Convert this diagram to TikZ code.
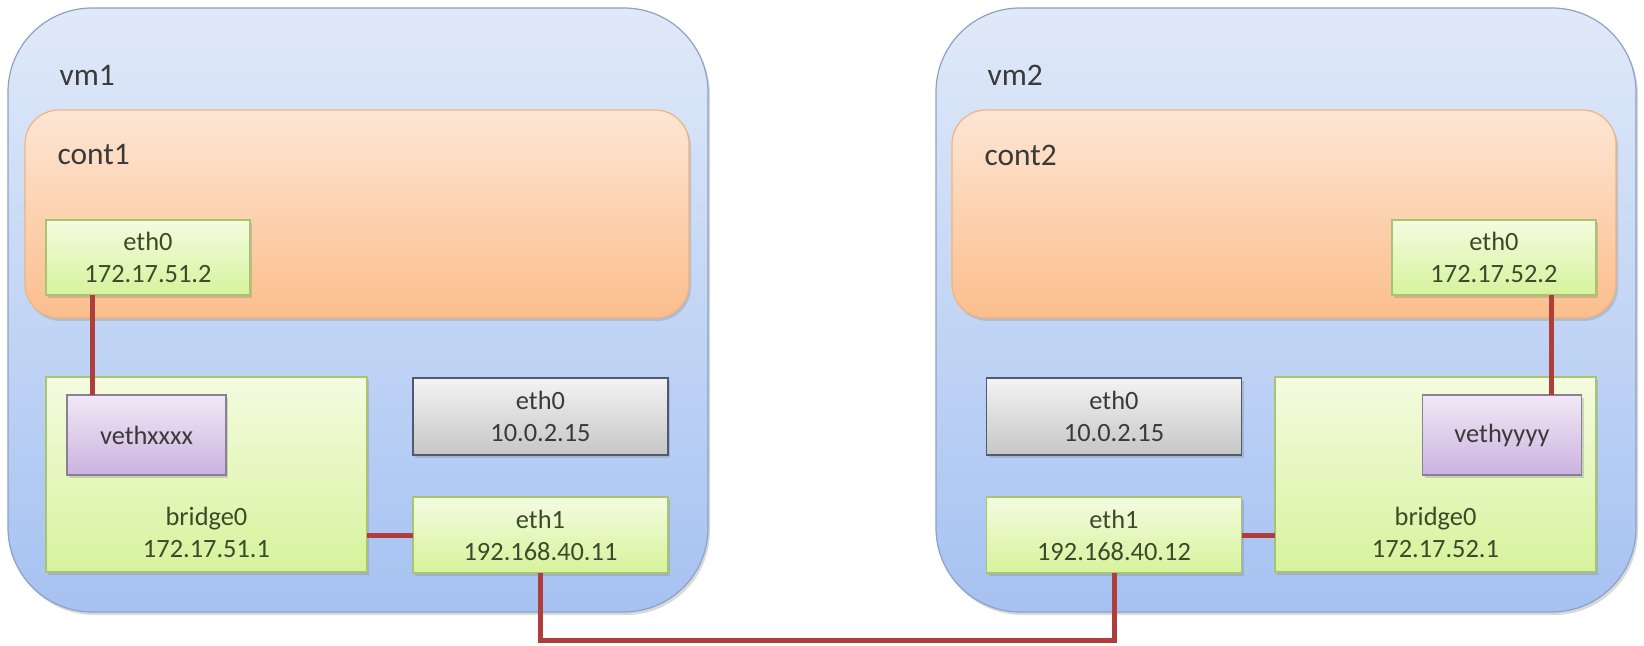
\documentclass[tikz,border=0pt]{standalone}
\usepackage{fontspec}
\setmainfont{Carlito}
\usetikzlibrary{shadows}
\definecolor{vmtop}{HTML}{E0E9F8}
\definecolor{vmbot}{HTML}{A6C2F2}
\definecolor{vmline}{HTML}{8CA2C6}
\definecolor{cttop}{HTML}{FDE6D4}
\definecolor{ctbot}{HTML}{FBBE8C}
\definecolor{ctline}{HTML}{F0B47E}
\definecolor{grtop}{HTML}{F4FBE0}
\definecolor{grbot}{HTML}{D6F39C}
\definecolor{grline}{HTML}{A8C46E}
\definecolor{gytop}{HTML}{F3F3F3}
\definecolor{gybot}{HTML}{C6C6C6}
\definecolor{gyline}{HTML}{4E5A72}
\definecolor{vltop}{HTML}{F2E8F6}
\definecolor{vlbot}{HTML}{CAB3E0}
\definecolor{vlline}{HTML}{8A7F96}
\definecolor{linkred}{HTML}{AE3E3C}
\definecolor{txt}{HTML}{3A3A3A}
\definecolor{gtxt}{HTML}{3C4A2A}
\begin{document}
\begin{tikzpicture}[x=0.5pt,y=-0.5pt,semithick,
 box/.style={draw,inner sep=0pt,outer sep=0pt,align=center,
  font=\fontsize{13.2}{16}\selectfont,
  drop shadow={shadow xshift=1pt,shadow yshift=-1.5pt,opacity=.3}},
 vmbox/.style={box,rounded corners=42pt,draw=vmline,top color=vmtop,bottom color=vmbot,
  minimum width=350pt,minimum height=302pt},
 ctbox/.style={box,rounded corners=17pt,draw=ctline,top color=cttop,bottom color=ctbot,
  minimum width=332pt,minimum height=104pt},
 nic/.style={box,draw=grline,top color=grtop,bottom color=grbot,text=gtxt},
 host/.style={box,draw=gyline,top color=gytop,bottom color=gybot,text=txt,
  minimum width=127.5pt,minimum height=38.5pt},
 veth/.style={box,draw=vlline,top color=vltop,bottom color=vlbot,text=txt,
  minimum width=79.5pt,minimum height=40pt},
 lbl/.style={inner sep=0pt,text=txt,font=\fontsize{15.7}{19}\selectfont},
 link/.style={draw=linkred,line width=2.5pt}]
\useasboundingbox(0,0)rectangle(1644,646);
% vm1
\node[vmbox](vm1)at(358,310){};
\node[lbl,anchor=west](vm1lbl)at([xshift=25.5pt,yshift=-33.5pt]vm1.north west){vm1};
\node[ctbox](ct1)at(357,214){};
\node[lbl,anchor=west](ct1lbl)at([xshift=16pt,yshift=-22.5pt]ct1.north west){cont1};
\node[nic,minimum width=102pt,minimum height=37.5pt](ct1eth0)at(148,257.5){eth0\\172.17.51.2};
\node[nic,minimum width=160.5pt,minimum height=97.5pt,
 label={[inner sep=0pt,anchor=south,yshift=7pt,align=center,text=gtxt,font=\fontsize{13.2}{16}\selectfont]south:bridge0\\172.17.51.1}](br1)at(206.5,474.5){};
\node[veth](veth1)at(146.5,435){vethxxxx};
\node[host](vm1eth0)at(540.5,416.5){eth0\\10.0.2.15};
\node[nic,minimum width=127.5pt,minimum height=38pt](vm1eth1)at(540.5,535){eth1\\192.168.40.11};
% vm2
\node[vmbox](vm2)at(1286,310){};
\node[lbl,anchor=west](vm2lbl)at([xshift=25.5pt,yshift=-33.5pt]vm2.north west){vm2};
\node[ctbox](ct2)at(1284,214){};
\node[lbl,anchor=west](ct2lbl)at([xshift=16pt,yshift=-22.5pt]ct2.north west){cont2};
\node[nic,minimum width=102pt,minimum height=37.5pt](ct2eth0)at(1494,257.5){eth0\\172.17.52.2};
\node[nic,minimum width=160.5pt,minimum height=97.5pt,
 label={[inner sep=0pt,anchor=south,yshift=7pt,align=center,text=gtxt,font=\fontsize{13.2}{16}\selectfont]south:bridge0\\172.17.52.1}](br2)at(1435.5,474.5){};
\node[veth](veth2)at(1502,435){vethyyyy};
\node[host](vm2eth0)at(1114,416.5){eth0\\10.0.2.15};
\node[nic,minimum width=127.5pt,minimum height=38pt](vm2eth1)at(1114,535){eth1\\192.168.40.12};
% links
\coordinate(t1)at(92,0);
\coordinate(t2)at(1551,0);
\draw[link](ct1eth0.south-|t1)--(veth1.north-|t1);
\draw[link](ct2eth0.south-|t2)--(veth2.north-|t2);
\draw[link](br1.east|-vm1eth1.west)--(vm1eth1.west);
\draw[link](br2.west|-vm2eth1.east)--(vm2eth1.east);
\draw[link](vm1eth1.south)--++(0,67)-|(vm2eth1.south);
\end{tikzpicture}
\end{document}
